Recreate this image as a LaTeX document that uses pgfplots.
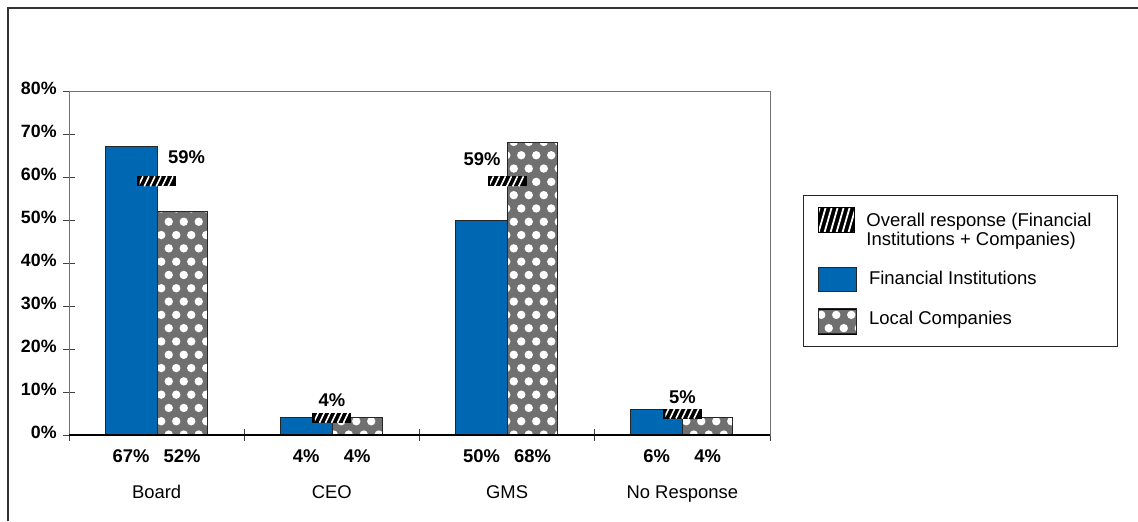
\documentclass[border=0pt]{standalone}
\usepackage{pgfplots}
\pgfplotsset{compat=1.18}
\usepackage{pgfplotstable}
\usepackage{fontspec}
\setmainfont{Liberation Sans}
\usetikzlibrary{patterns}

\definecolor{finblue}{HTML}{0068B3}
\definecolor{dotgray}{HTML}{707070}

\pgfplotsset{/pgf/number format/assume math mode=true}

% white staggered dots for the Local Companies bars
\pgfdeclarepatternformonly{hexdots}{\pgfqpoint{-1pt}{-1pt}}{\pgfqpoint{8.5pt}{14.3pt}}{\pgfqpoint{7.5pt}{13.3pt}}{%
  \pgfpathcircle{\pgfqpoint{1.875pt}{3.325pt}}{2.1pt}%
  \pgfpathcircle{\pgfqpoint{5.625pt}{9.975pt}}{2.1pt}%
  \pgfusepath{fill}}

% hatched bar marking the overall response
\pgfdeclareplotmark{overall}{%
  \pgfsetfillcolor{black}%
  \pgfpathrectangle{\pgfqpoint{-9.75pt}{-2.5pt}}{\pgfqpoint{19.5pt}{5pt}}%
  \pgfusepath{fill}%
  \begin{pgfscope}%
    \pgfpathrectangle{\pgfqpoint{-8.5pt}{-2.5pt}}{\pgfqpoint{17pt}{5pt}}%
    \pgfusepath{clip}%
    \pgfsetstrokecolor{white}\pgfsetlinewidth{0.8pt}%
    \pgfpathmoveto{\pgfqpoint{-9.2pt}{-2.5pt}}\pgfpathlineto{\pgfqpoint{-6.8pt}{2.5pt}}%
    \pgfpathmoveto{\pgfqpoint{-6.2pt}{-2.5pt}}\pgfpathlineto{\pgfqpoint{-3.8pt}{2.5pt}}%
    \pgfpathmoveto{\pgfqpoint{-3.2pt}{-2.5pt}}\pgfpathlineto{\pgfqpoint{-0.8pt}{2.5pt}}%
    \pgfpathmoveto{\pgfqpoint{-0.2pt}{-2.5pt}}\pgfpathlineto{\pgfqpoint{2.2pt}{2.5pt}}%
    \pgfpathmoveto{\pgfqpoint{2.8pt}{-2.5pt}}\pgfpathlineto{\pgfqpoint{5.2pt}{2.5pt}}%
    \pgfpathmoveto{\pgfqpoint{5.8pt}{-2.5pt}}\pgfpathlineto{\pgfqpoint{8.2pt}{2.5pt}}%
    \pgfusepath{stroke}%
  \end{pgfscope}%
}

% reserves vertical room in a legend row without drawing anything
\newcommand\legendrow[2]{%
  \pgfpathrectangle{\pgfqpoint{0pt}{#1}}{\pgfqpoint{1pt}{#2}}\pgfusepath{}}

% x: category position, fin/loc/all: shares in percent, dx/dy: label offsets (pt)
\pgfplotstableread{
x   fin loc all dx    dy
0.5 67  52  59  15    9
1.5 4   4   4   0     5.5
2.5 50  68  59  -12.5 8
3.5 6   4   5   0     5
}\responses

\newcommand\lblfont{\fontsize{9.2}{10.5}\selectfont}

\begin{document}
\begin{tikzpicture}
\useasboundingbox (0,0) rectangle (569pt,260.5pt);
\draw[line width=1pt, black!80] (4pt,0pt) -- (4pt,256.5pt) -- (569pt,256.5pt);
\begin{axis}[
  at={(34.5pt,43pt)}, anchor=south west,
  scale only axis, width=350.5pt, height=172pt,
  xmin=0, xmax=4, ymin=0, ymax=80,
  clip=false,
  axis line style={draw=black!55, line width=0.5pt},
  tick pos=left,
  tick align=center, major tick length=6pt,
  tick style={draw=black!75, line width=0.5pt},
  xtick={0,1,2,3,4}, xticklabels={},
  extra x ticks={0.5,1.5,2.5,3.5},
  extra x tick labels={Board,CEO,GMS,No Response},
  extra x tick style={major tick length=0pt,
    tick label style={anchor=base, yshift=-31.75pt, inner sep=0pt, font=\lblfont}},
  ytick={0,10,...,80},
  yticklabel={\pgfmathprintnumber{\tick}\%},
  yticklabel style={font=\fontsize{8.9}{10}\selectfont\bfseries, anchor=east,
    inner sep=0pt, xshift=-3pt, yshift=1.2pt},
  legend style={at={(1.0467,0.6985)}, anchor=north west,
    draw=black!85, line width=0.6pt, fill=white,
    inner xsep=7.3pt, inner ysep=0pt,
    font=\fontsize{9.25}{9.35}\selectfont,
    nodes={inner sep=0pt}, column sep=6pt, row sep=0pt},
  legend cell align=left,
]
% legend entries: each image fixes the height of its row, text sits on the row baseline
\addlegendimage{legend image code/.code={
  \legendrow{-14.6pt}{30.9pt}
  \begin{scope}
    \clip (0pt,-2.2pt) rectangle (18pt,10pt);
    \fill[black] (0pt,-2.2pt) rectangle (18pt,10pt);
    \foreach \s in {-3,0,...,18} \draw[white, line width=0.9pt] (\s pt,-2.2pt) -- ++(3.5pt,12.2pt);
  \end{scope}
  \draw[black, line width=0.5pt, fill=none] (0pt,-2.2pt) rectangle (18pt,10pt);
}}
\addlegendentry{\smash{\begin{tabular}[t]{@{}p{117pt}@{}}\hspace*{-1.3pt}Overall response (Financial\\\hspace*{-1.3pt}Institutions + Companies)\end{tabular}}}
\addlegendimage{legend image code/.code={
  \legendrow{-9.8pt}{24.4pt}
  \draw[black!85, line width=0.5pt, fill=finblue] (0pt,-2.65pt) rectangle (19pt,9.5pt);
}}
\addlegendentry{\smash{Financial Institutions}}
\addlegendimage{legend image code/.code={
  \legendrow{-10.5pt}{20.35pt}
  \draw[black!85, line width=0.5pt, preaction={fill=dotgray}, pattern=hexdots, pattern color=white] (0pt,-4.15pt) rectangle (19pt,8.35pt);
}}
\addlegendentry{\smash{Local Companies}}

% bars
\addplot[ybar, bar width=26pt, bar shift=-12.8pt, fill=finblue, draw=black!85,
  line width=0.5pt, forget plot]
  table[x=x, y=fin] {\responses};
\addplot[ybar, bar width=25pt, bar shift=12.7pt, preaction={fill=dotgray},
  pattern=hexdots, pattern color=white, draw=black!85, line width=0.5pt, forget plot]
  table[x=x, y=loc] {\responses};

% value labels under each bar
\addplot[draw=none, mark=none, forget plot,
  point meta=explicit,
  nodes near coords={\pgfmathprintnumber{\pgfplotspointmeta}\%},
  every node near coord/.append style={anchor=base, xshift=-12.8pt, yshift=-13.75pt,
    inner sep=0pt, font=\lblfont\bfseries, text=black}]
  table[x=x, y expr=0, meta=fin] {\responses};
\addplot[draw=none, mark=none, forget plot,
  point meta=explicit,
  nodes near coords={\pgfmathprintnumber{\pgfplotspointmeta}\%},
  every node near coord/.append style={anchor=base, xshift=12.7pt, yshift=-13.75pt,
    inner sep=0pt, font=\lblfont\bfseries, text=black}]
  table[x=x, y expr=0, meta=loc] {\responses};

% overall response markers with their labels
\addplot[only marks, mark=overall, forget plot,
  point meta=explicit,
  visualization depends on={\thisrow{dx} \as \dx},
  visualization depends on={\thisrow{dy} \as \dy},
  nodes near coords={\pgfmathprintnumber{\pgfplotspointmeta}\%},
  every node near coord/.append style={anchor=base, xshift=\dx pt, yshift=\dy pt,
    inner sep=0pt, font=\lblfont\bfseries, text=black}]
  table[x=x, y=all, meta=all] {\responses};

\draw[black, line width=0.6pt] (rel axis cs:0,0) -- (rel axis cs:1,0);
\end{axis}
\end{tikzpicture}
\end{document}
